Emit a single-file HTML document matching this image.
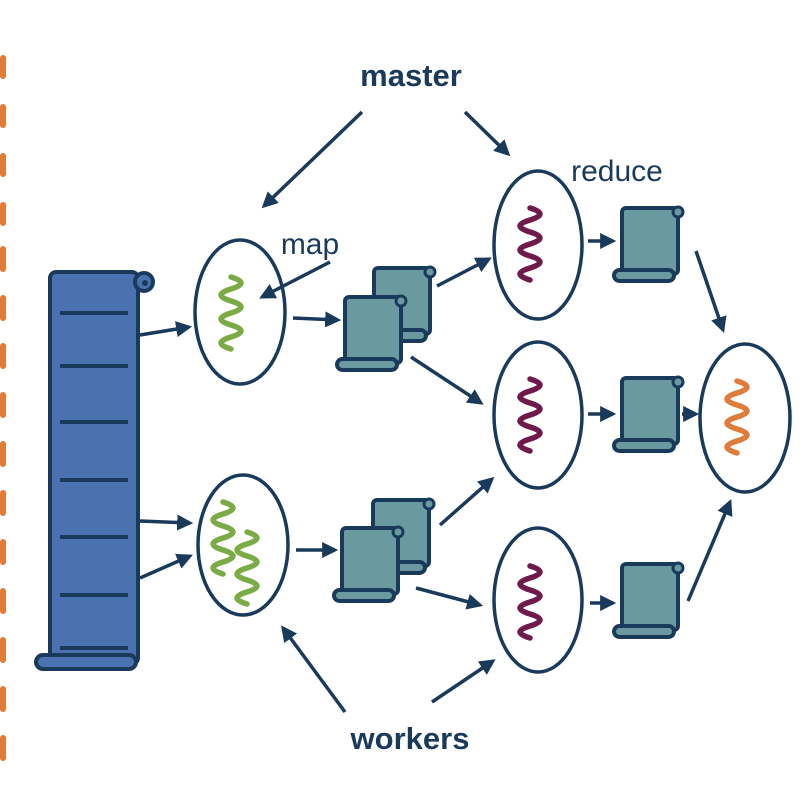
<!DOCTYPE html>
<html><head><meta charset="utf-8"><style>html,body{margin:0;padding:0;background:#fff}svg{display:block}</style></head>
<body>
<svg width="808" height="786" viewBox="0 0 808 786" xmlns="http://www.w3.org/2000/svg">
<defs>
<marker id="ah" viewBox="0 0 10 10" refX="8" refY="5" markerWidth="4.6" markerHeight="4.6" orient="auto"><path d="M0,0 L10,5 L0,10 z" fill="#1a3a5c"/></marker>
<g id="doc">
<rect x="0" y="0" width="56" height="66" rx="4" fill="#6a9aa0" stroke="#1a3a5c" stroke-width="4"/>
<circle cx="56" cy="4" r="5" fill="#6a9aa0" stroke="#1a3a5c" stroke-width="3"/>
<rect x="-8" y="62" width="60" height="11" rx="5.5" fill="#6a9aa0" stroke="#1a3a5c" stroke-width="4"/>
</g>
<path id="sq" d="M-7,0 q20,6 0,12 t0,12 t0,12 t0,12 t0,12 t0,12" fill="none" stroke-width="5.5" stroke-linecap="round"/>
</defs>
<g fill="#e07b39">
<rect x="0" y="55" width="6" height="24" rx="3"/><rect x="0" y="104" width="6" height="24" rx="3"/><rect x="0" y="153" width="6" height="24" rx="3"/><rect x="0" y="202" width="6" height="24" rx="3"/><rect x="0" y="246" width="6" height="26" rx="3"/><rect x="0" y="295" width="6" height="26" rx="3"/><rect x="0" y="343" width="6" height="26" rx="3"/><rect x="0" y="392" width="6" height="26" rx="3"/><rect x="0" y="441" width="6" height="26" rx="3"/><rect x="0" y="490" width="6" height="26" rx="3"/><rect x="0" y="539" width="6" height="26" rx="3"/><rect x="0" y="588" width="6" height="26" rx="3"/><rect x="0" y="637" width="6" height="26" rx="3"/><rect x="0" y="686" width="6" height="26" rx="3"/><rect x="0" y="735" width="6" height="26" rx="3"/>
</g>
<g stroke="#1a3a5c" stroke-width="4" fill="#4a72b0">
<rect x="50" y="272" width="88" height="392" rx="6"/>
<circle cx="144" cy="282" r="9"/>
<rect x="36" y="655" width="100" height="14" rx="7"/>
</g>
<circle cx="145" cy="283" r="3" fill="#1a3a5c"/>
<g stroke="#1a3a5c" stroke-width="4">
<line x1="60" y1="313" x2="128" y2="313"/><line x1="60" y1="366" x2="128" y2="366"/><line x1="60" y1="422" x2="128" y2="422"/><line x1="60" y1="480" x2="128" y2="480"/><line x1="60" y1="537" x2="128" y2="537"/><line x1="60" y1="595" x2="128" y2="595"/><line x1="60" y1="648" x2="128" y2="648"/>
</g>
<g fill="#fff" stroke="#1a3a5c" stroke-width="3.5">
<ellipse cx="240" cy="312" rx="45" ry="72"/>
<ellipse cx="243" cy="545" rx="45" ry="70"/>
<ellipse cx="538" cy="245" rx="44" ry="74"/>
<ellipse cx="538" cy="415" rx="44" ry="73"/>
<ellipse cx="538" cy="600" rx="44" ry="72"/>
<ellipse cx="745" cy="418" rx="45" ry="74"/>
</g>
<use href="#sq" x="238" y="277" stroke="#7aab45"/>
<use href="#sq" x="230" y="502" stroke="#7aab45"/>
<use href="#sq" x="254" y="532" stroke="#7aab45"/>
<use href="#sq" x="537" y="208" stroke="#6e1a4a"/>
<use href="#sq" x="537" y="379" stroke="#6e1a4a"/>
<use href="#sq" x="537" y="566" stroke="#6e1a4a"/>
<use href="#sq" x="744" y="381" stroke="#e07b39"/>
<use href="#doc" x="374" y="268"/>
<use href="#doc" x="345" y="297"/>
<use href="#doc" x="373" y="500"/>
<use href="#doc" x="342" y="528"/>
<use href="#doc" x="622" y="208"/>
<use href="#doc" x="622" y="378"/>
<use href="#doc" x="622" y="564"/>
<g stroke="#1a3a5c" stroke-width="3.5" marker-end="url(#ah)" fill="none">
<line x1="362" y1="112" x2="264" y2="206"/>
<line x1="465" y1="112" x2="508" y2="154"/>
<line x1="140" y1="335" x2="189" y2="327"/>
<line x1="140" y1="521" x2="190" y2="523"/>
<line x1="140" y1="578" x2="190" y2="556"/>
<line x1="330" y1="262" x2="262" y2="297"/>
<line x1="293" y1="318" x2="338" y2="320"/>
<line x1="296" y1="550" x2="335" y2="550"/>
<line x1="437" y1="286" x2="489" y2="259"/>
<line x1="411" y1="357" x2="481" y2="403"/>
<line x1="440" y1="525" x2="492" y2="479"/>
<line x1="416" y1="588" x2="480" y2="605"/>
<line x1="588" y1="241" x2="613" y2="241"/>
<line x1="588" y1="414" x2="613" y2="414"/>
<line x1="590" y1="603" x2="613" y2="603"/>
<line x1="696" y1="251" x2="723" y2="330"/>
<line x1="682" y1="414" x2="696" y2="414"/>
<line x1="688" y1="601" x2="730" y2="502"/>
<line x1="345" y1="712" x2="283" y2="628"/>
<line x1="432" y1="702" x2="493" y2="661"/>
</g>
<g font-family="Liberation Sans, sans-serif" fill="#1a3a5c">
<text x="411" y="86" font-size="31" font-weight="bold" text-anchor="middle">master</text>
<text x="410" y="749" font-size="31" font-weight="bold" text-anchor="middle">workers</text>
<text x="310" y="254" font-size="30" text-anchor="middle">map</text>
<text x="617" y="181" font-size="30" text-anchor="middle">reduce</text>
</g>
</svg>
</body></html>
